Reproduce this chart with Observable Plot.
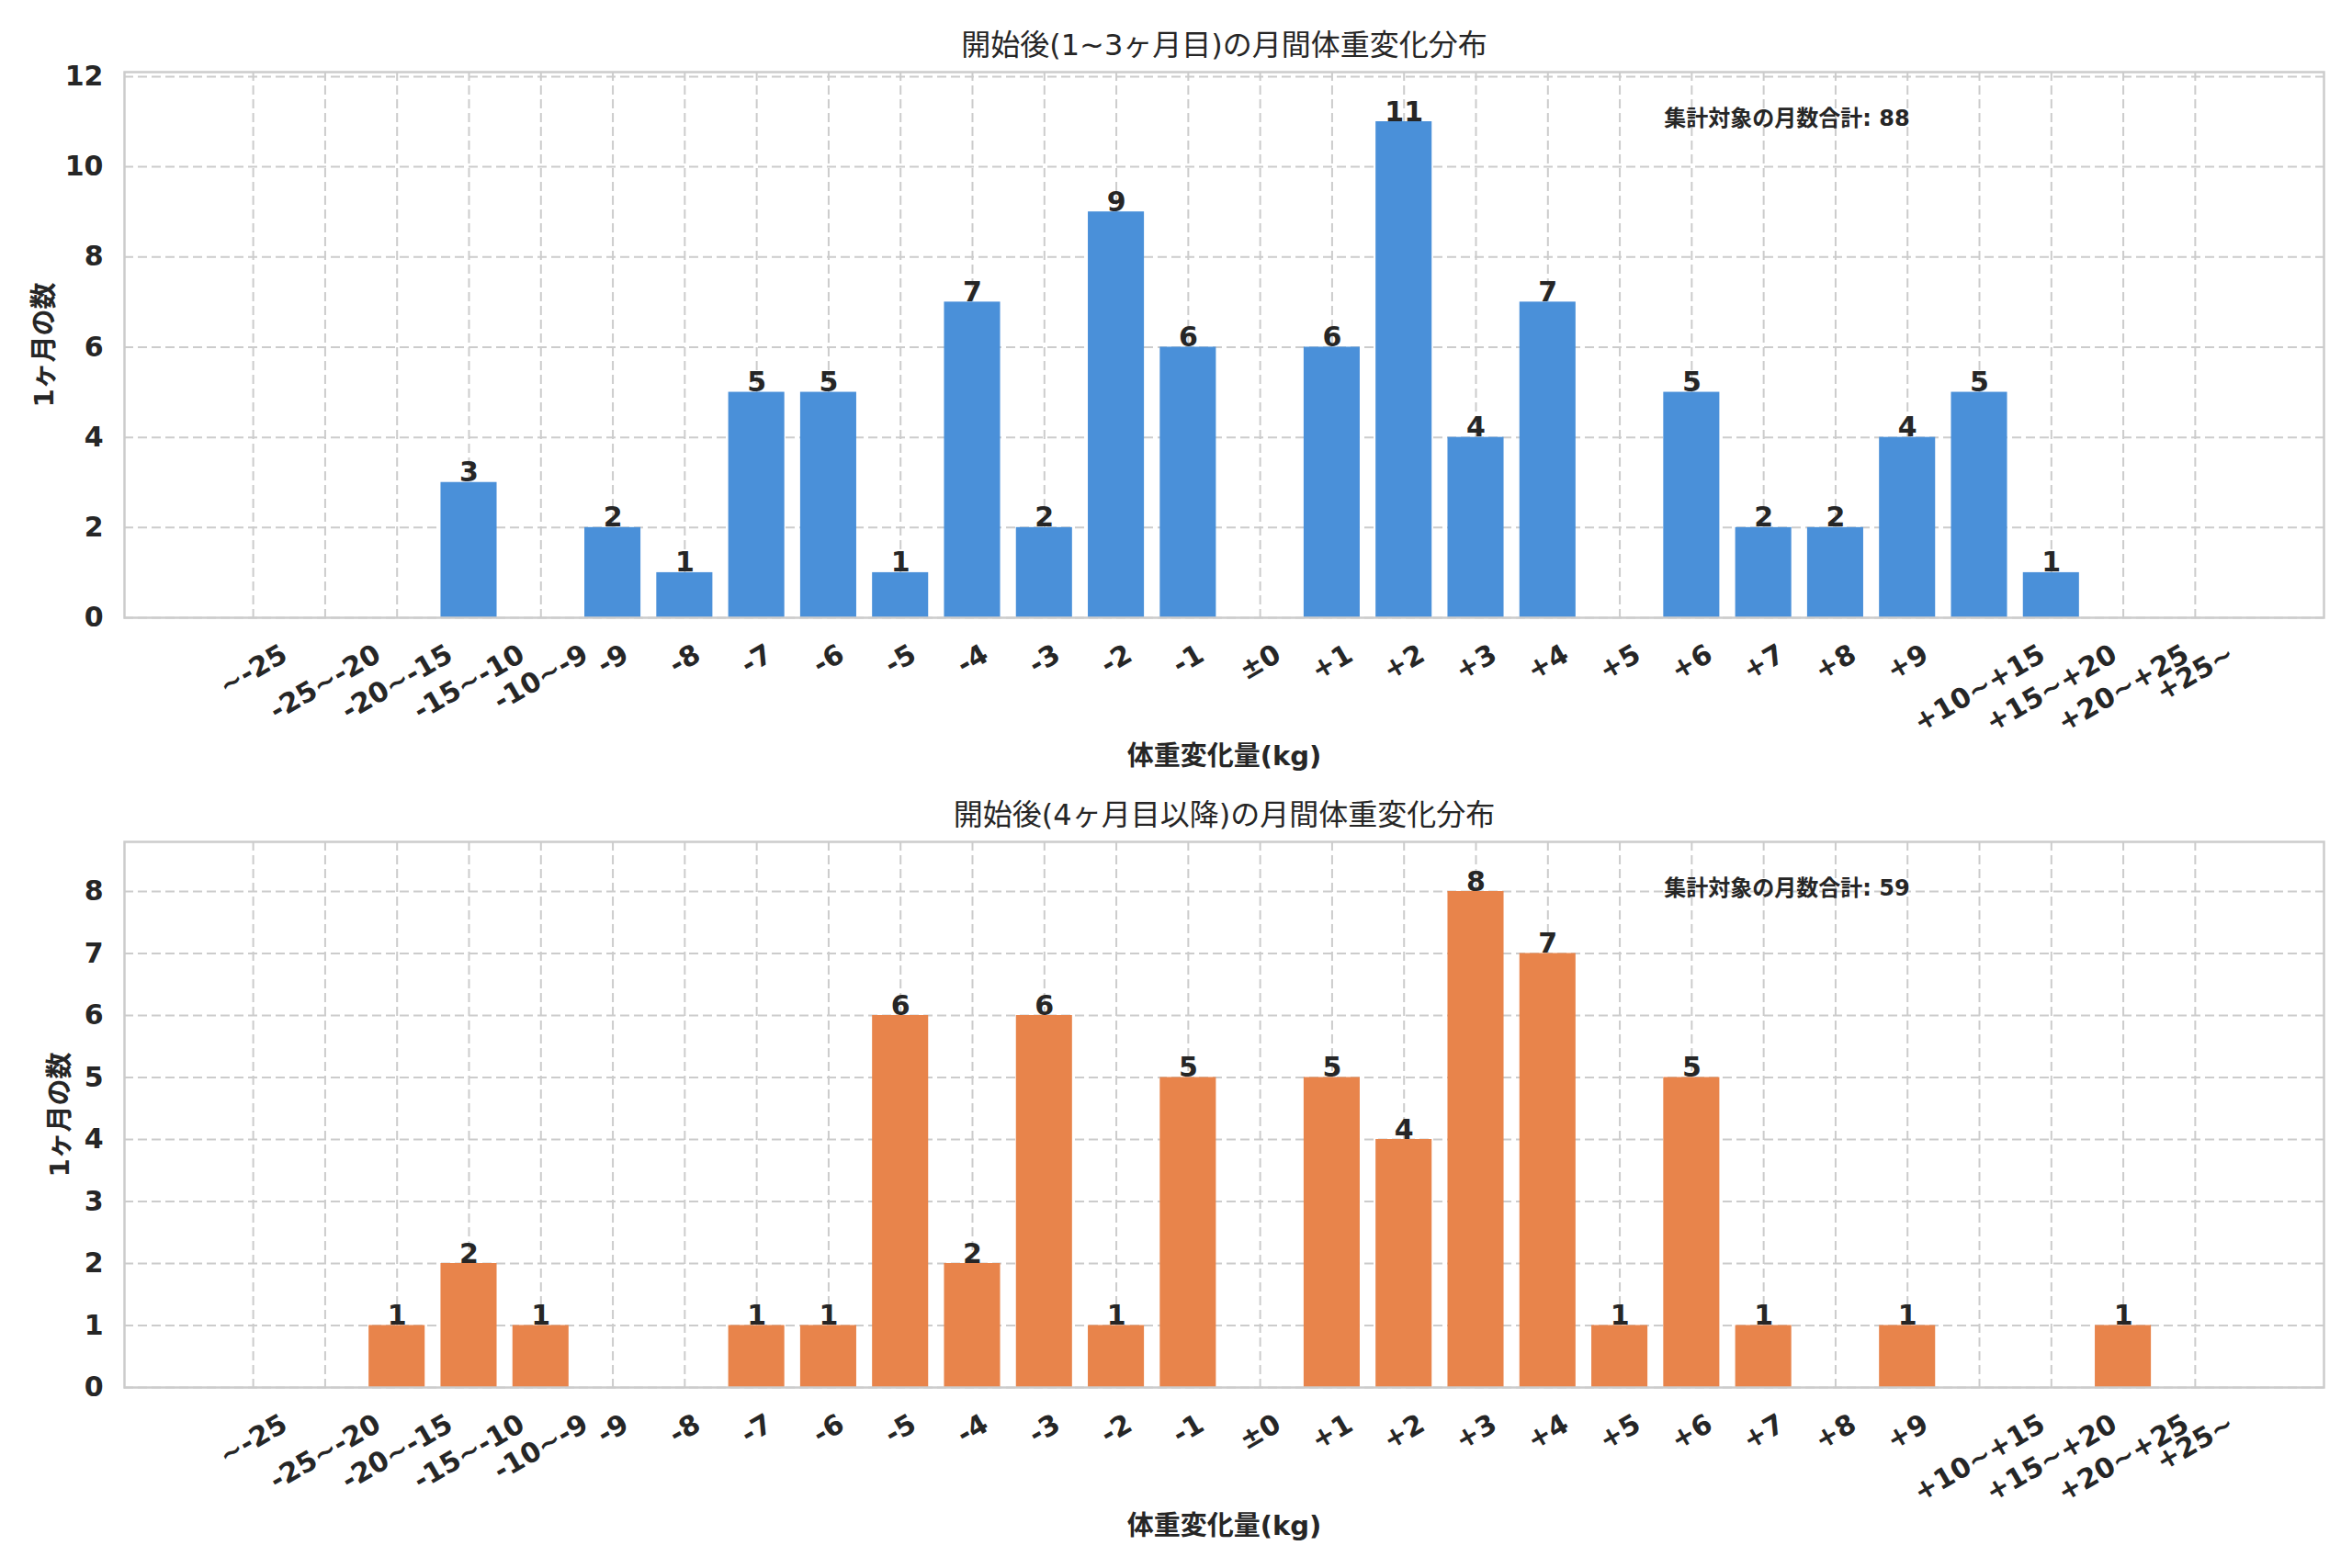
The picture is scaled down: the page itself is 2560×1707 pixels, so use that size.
<!DOCTYPE html>
<html>
<head>
<meta charset="utf-8">
<script src="https://cdn.jsdelivr.net/npm/d3@7"></script>
<script src="https://cdn.jsdelivr.net/npm/@observablehq/plot@0.6"></script>
<style>
  html, body { margin: 0; padding: 0; background: #ffffff; }
  #chart { width: 2560px; }
  #chart svg { display: block; }
</style>
</head>
<body>
<div id="chart"></div>
<script>
// ---- data ----
const categories = ["~-25", "-25~-20", "-20~-15", "-15~-10", "-10~-9", "-9", "-8", "-7", "-6", "-5", "-4", "-3", "-2", "-1", "±0", "+1", "+2", "+3", "+4", "+5", "+6", "+7", "+8", "+9", "+10~+15", "+15~+20", "+20~+25", "+25~"];
const countsEarly = [0, 0, 0, 3, 0, 2, 1, 5, 5, 1, 7, 2, 9, 6, 0, 6, 11, 4, 7, 0, 5, 2, 2, 4, 5, 1, 0, 0];
const countsLate  = [0, 0, 1, 2, 1, 0, 0, 1, 1, 6, 2, 6, 1, 5, 0, 5, 4, 8, 7, 1, 5, 1, 0, 1, 0, 0, 1, 0];
const titles = ["開始後(1~3ヶ月目)の月間体重変化分布", "開始後(4ヶ月目以降)の月間体重変化分布"];
const annotLabel = "集計対象の月数合計";
const yLabel = "1ヶ月の数";
const xLabel = "体重変化量(kg)";
const colors = ["#4a90d9", "#e8844b"];
const yTicks = [[0, 2, 4, 6, 8, 10, 12], [0, 1, 2, 3, 4, 5, 6, 7, 8]];

// ---- layout ----
const W = 2560;
const FONT = "'DejaVu Sans', 'Noto Sans CJK JP', sans-serif";
const INK = "#262626";
const GRID = "#cccccc";
const tickFont = 30;

const canvas = document.createElement("canvas");
const ctx = canvas.getContext("2d");
ctx.font = `bold ${tickFont}px 'DejaVu Sans'`;
const H = tickFont * 1.17;
const sin30 = 0.5, cos30 = Math.sqrt(3) / 2;
function labelOffset(s) {
  const w = ctx.measureText(s).width;
  return 22 + (w * sin30 + H * cos30) / 2;
}

function makeChart(counts, k, opts) {
  const data = counts.map((v, i) => ({i, v, cat: categories[i]}));
  const ymax = d3.max(counts) * 1.1;
  const idx = categories.map((c, i) => i);
  const total = d3.sum(counts);
  const frameW = W - opts.marginLeft - opts.marginRight;
  const tickLabelMarks = categories.map((c, i) =>
    Plot.text([{i, c}], {
      x: "i", text: "c", frameAnchor: "bottom",
      dy: labelOffset(c), rotate: -30, textAnchor: "middle", lineAnchor: "middle",
      fontSize: tickFont, fontWeight: "bold", fill: INK
    })
  );
  return Plot.plot({
    width: W,
    height: opts.height,
    marginLeft: opts.marginLeft,
    marginRight: opts.marginRight,
    marginTop: opts.marginTop,
    marginBottom: opts.marginBottom,
    style: {fontFamily: FONT, fontSize: "30px", color: INK, background: "#ffffff", overflow: "visible"},
    x: {type: "linear", domain: [-1.79, 28.79], axis: null},
    y: {domain: [0, ymax], axis: null},
    marks: [
      Plot.gridX(idx, {stroke: GRID, strokeOpacity: 1, strokeWidth: 2, strokeDasharray: "10,5"}),
      Plot.gridY(yTicks[k], {stroke: GRID, strokeOpacity: 1, strokeWidth: 2, strokeDasharray: "10,5"}),
      Plot.axisY(yTicks[k], {tickSize: 0, tickPadding: 23, tickFormat: d => String(d), fontSize: tickFont, fontWeight: "bold", fill: INK, label: null}),
      Plot.rectY(data, {x1: d => d.i - 0.39, x2: d => d.i + 0.39, y: "v", fill: colors[k]}),
      Plot.frame({stroke: GRID, strokeWidth: 2.5}),
      Plot.text(data.filter(d => d.v > 0), {x: "i", y: "v", text: d => String(d.v), lineAnchor: "bottom", dy: -1, fontSize: tickFont, fontWeight: "bold", fill: INK}),
      ...tickLabelMarks,
      Plot.text([titles[k]], {frameAnchor: "top", dy: -29, lineAnchor: "middle", fontSize: 32, fill: INK}),
      Plot.text([`${annotLabel}: ${total}`], {frameAnchor: "top-left", dx: 0.7 * frameW, dy: 51, textAnchor: "start", lineAnchor: "middle", fontSize: 24, fontWeight: "bold", fill: INK}),
      Plot.text([xLabel], {frameAnchor: "bottom", dy: 151, lineAnchor: "middle", fontSize: 29, fontWeight: "bold", fill: INK}),
      Plot.text([yLabel], {frameAnchor: "left", dx: opts.ylabelDx, rotate: -90, textAnchor: "middle", lineAnchor: "middle", fontSize: 29, fontWeight: "bold", fill: INK})
    ]
  });
}

const root = document.getElementById("chart");
root.appendChild(makeChart(countsEarly, 0, {height: 855, marginLeft: 135, marginRight: 31, marginTop: 78, marginBottom: 183, ylabelDx: -87}));
root.appendChild(makeChart(countsLate, 1, {height: 852, marginLeft: 135, marginRight: 31, marginTop: 61, marginBottom: 197, ylabelDx: -70}));
</script>
</body>
</html>
